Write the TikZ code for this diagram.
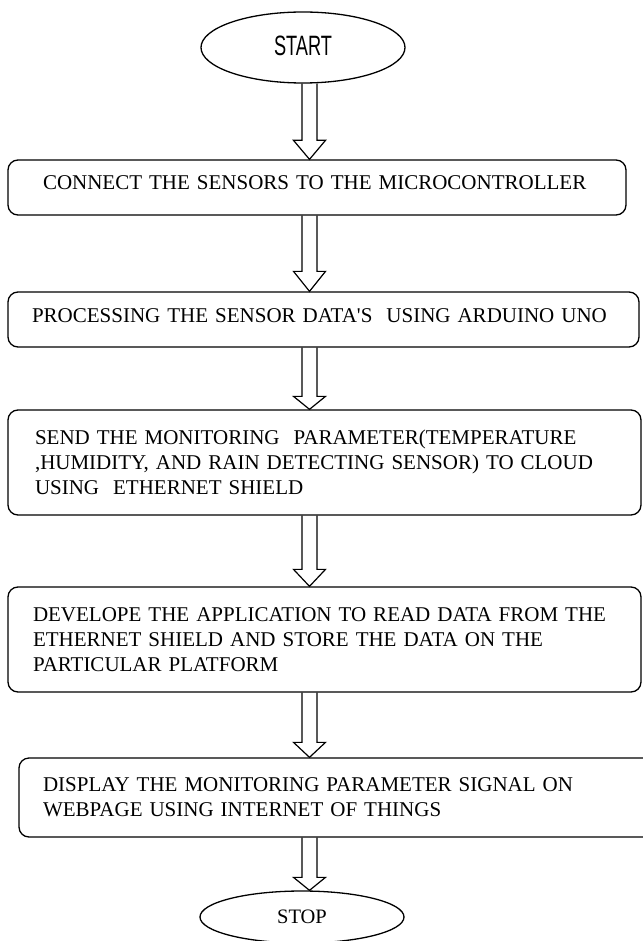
\documentclass[tikz,border=0pt]{standalone}
\usepackage{fontspec}
\usepackage{graphicx}
\setmainfont{Liberation Serif}
\newfontfamily\startfont{Liberation Sans}
\usetikzlibrary{shapes.geometric,calc}
\tikzset{
  flowbox/.style={draw, line width=1.3pt, rounded corners=10pt, inner ysep=0pt, align=left, font=\fontsize{21}{25}\selectfont},
  oneline/.style={text height=14pt, text depth=9pt},
  term/.style={draw, ellipse, line width=1.3pt, inner sep=0pt, minimum width=204pt},
  barrow/.style={draw, line width=1.2pt, line join=miter},
}
\newcommand{\blockarrow}[3]{%
  \draw[barrow] let \p1=(#1.south -| ax), \p2=(#2.north -| ax) in
    (\x1-7.5pt,\y1) -- (\x1-7.5pt,\y2+#3pt) -- (\x1-16pt,\y2+#3pt) -- (\x2,\y2)
    -- (\x1+16pt,\y2+#3pt) -- (\x1+7.5pt,\y2+#3pt) -- (\x1+7.5pt,\y1);%
}
\begin{document}
\begin{tikzpicture}[x=1pt,y=1pt]
\useasboundingbox (0,0) rectangle (642,-941);
\fill[white] (0,0) rectangle (642,-941);
\coordinate (ax) at (309.5,0);

\node[term, minimum height=71pt] (start) at (303,-47.5)
  {\raisebox{4.5pt}{\scalebox{0.65}[1]{\startfont\fontsize{28}{30}\selectfont START}}};

\node[flowbox, oneline, minimum width=618pt, minimum height=55pt, inner xsep=35pt, text width=548pt] (b1) at (317,-187.5)
  {CONNECT THE SENSORS TO THE MICROCONTROLLER};

\node[flowbox, oneline, minimum width=631pt, minimum height=55pt, inner xsep=24pt, text width=583pt] (b2) at (323.5,-319.5)
  {PROCESSING THE SENSOR DATA\textquotesingle S~ USING ARDUINO UNO};

\node[flowbox, minimum width=633pt, minimum height=105pt, inner xsep=27pt, text width=579pt] (b3) at (324.5,-462.5)
  {SEND THE MONITORING~ PARAMETER(TEMPERATURE\\ ,HUMIDITY, AND RAIN DETECTING SENSOR) TO CLOUD\\ USING~ ETHERNET SHIELD};

\node[flowbox, minimum width=633pt, minimum height=105pt, inner xsep=25pt, text width=583pt] (b4) at (324.5,-639.5)
  {DEVELOPE THE APPLICATION TO READ DATA FROM THE\\ ETHERNET SHIELD AND STORE THE DATA ON THE\\ PARTICULAR PLATFORM};

\node[flowbox, minimum width=646pt, minimum height=79pt, inner xsep=24pt, text width=598pt] (b5) at (342,-797.5)
  {DISPLAY THE MONITORING PARAMETER SIGNAL ON\\ WEBPAGE USING INTERNET OF THINGS};

\node[term, minimum height=52pt, font=\fontsize{20.5}{24}\selectfont] (stop) at (302,-917) {STOP};

\blockarrow{start}{b1}{19}
\blockarrow{b1}{b2}{20}
\blockarrow{b2}{b3}{13}
\blockarrow{b3}{b4}{17}
\blockarrow{b4}{b5}{15}
\blockarrow{b5}{stop}{13}
\end{tikzpicture}
\end{document}
